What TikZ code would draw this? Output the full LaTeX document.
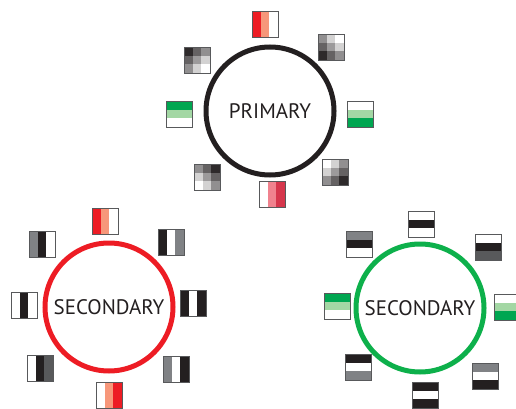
\documentclass[tikz,border=0pt]{standalone}
\usepackage{fontspec}
\setmainfont{PT Sans}
\usepackage{tikz}
\usetikzlibrary{shapes}

\definecolor{ink}{HTML}{231F20}
\definecolor{kred}{HTML}{ED1C24}
\definecolor{ksalmon}{HTML}{F7977A}
\definecolor{kpink}{HTML}{F0828E}
\definecolor{kcrimson}{HTML}{D6364C}
\definecolor{kdgreen}{HTML}{00A651}
\definecolor{klgreen}{HTML}{A3D7A4}
\definecolor{gring}{HTML}{0DB04B}
\definecolor{dgray}{HTML}{58595B}
\definecolor{mgray}{HTML}{808285}

% filter patches: three columns, three rows, or a 3x3 grid of grey levels
\newcommand{\colpatch}[4]{%
  \begin{scope}[shift={(#1)}]
    \fill[#2] (-13,-13) rectangle (-4.33,13);
    \fill[#3] (-4.33,-13) rectangle (4.33,13);
    \fill[#4] (4.33,-13) rectangle (13,13);
    \draw[patchframe] (-13,-13) rectangle (13,13);
  \end{scope}}
\newcommand{\rowpatch}[4]{%
  \begin{scope}[shift={(#1)}]
    \fill[#2] (-13,-13) rectangle (13,-4.33);
    \fill[#3] (-13,-4.33) rectangle (13,4.33);
    \fill[#4] (-13,4.33) rectangle (13,13);
    \draw[patchframe] (-13,-13) rectangle (13,13);
  \end{scope}}
\newcommand{\gridpatch}[2]{%
  \begin{scope}[shift={(#1)}]
    \foreach \v [count=\i from 0] in {#2} {
      \pgfmathtruncatemacro{\prow}{div(\i,3)}
      \pgfmathtruncatemacro{\pcol}{mod(\i,3)}
      \fill[ink!\v!white] (-13+\pcol*8.667,-13+\prow*8.667) rectangle ++(8.667,8.667);
    }
    \draw[patchframe] (-13,-13) rectangle (13,13);
  \end{scope}}

\begin{document}
\begin{tikzpicture}[x=1pt, y=-1pt,
    ring/.style={circle, draw=#1, line width=5pt, minimum size=128pt, inner sep=0pt,
      text=ink, font=\fontsize{21}{25}\selectfont},
    patchframe/.style={draw=dgray, line width=0.8pt}]
    \useasboundingbox (0,0) rectangle (516,409);

    % primary
    \node[ring=ink] (prim) at (270,111) {PRIMARY};
    \colpatch{265,24}{kred}{ksalmon}{white}
    \gridpatch{331,47}{50,20,0,70,45,20,95,70,50}
    \rowpatch{360,114}{white}{klgreen}{kdgreen}
    \gridpatch{335,172}{0,20,50,20,45,70,50,70,95}
    \colpatch{272,194}{white}{kpink}{kcrimson}
    \gridpatch{207,177}{50,70,95,20,45,70,0,20,50}
    \rowpatch{179,114}{kdgreen}{klgreen}{white}
    \gridpatch{197,60}{95,70,50,70,45,20,50,20,0}

    % secondary, red
    \node[ring=kred] (secl) at (109,307) {SECONDARY};
    \colpatch{105,221}{kred}{ksalmon}{white}
    \colpatch{171,242}{ink}{white}{mgray}
    \colpatch{193,303}{ink}{white}{ink}
    \colpatch{176,369}{mgray}{white}{ink}
    \colpatch{109,395}{white}{ksalmon}{kred}
    \colpatch{40,368}{white}{ink}{dgray}
    \colpatch{24,305}{white}{ink}{white}
    \colpatch{42,244}{mgray}{ink}{white}

    % secondary, green
    \node[ring=gring] (secr) at (420,308) {SECONDARY};
    \rowpatch{421,224}{white}{ink}{white}
    \rowpatch{488,247}{white}{ink}{dgray}
    \rowpatch{507,307}{white}{klgreen}{kdgreen}
    \rowpatch{485,376}{mgray}{white}{ink}
    \rowpatch{425,395}{ink}{white}{ink}
    \rowpatch{358,367}{ink}{white}{mgray}
    \rowpatch{337,306}{kdgreen}{klgreen}{white}
    \rowpatch{359,244}{mgray}{ink}{white}
\end{tikzpicture}
\end{document}
